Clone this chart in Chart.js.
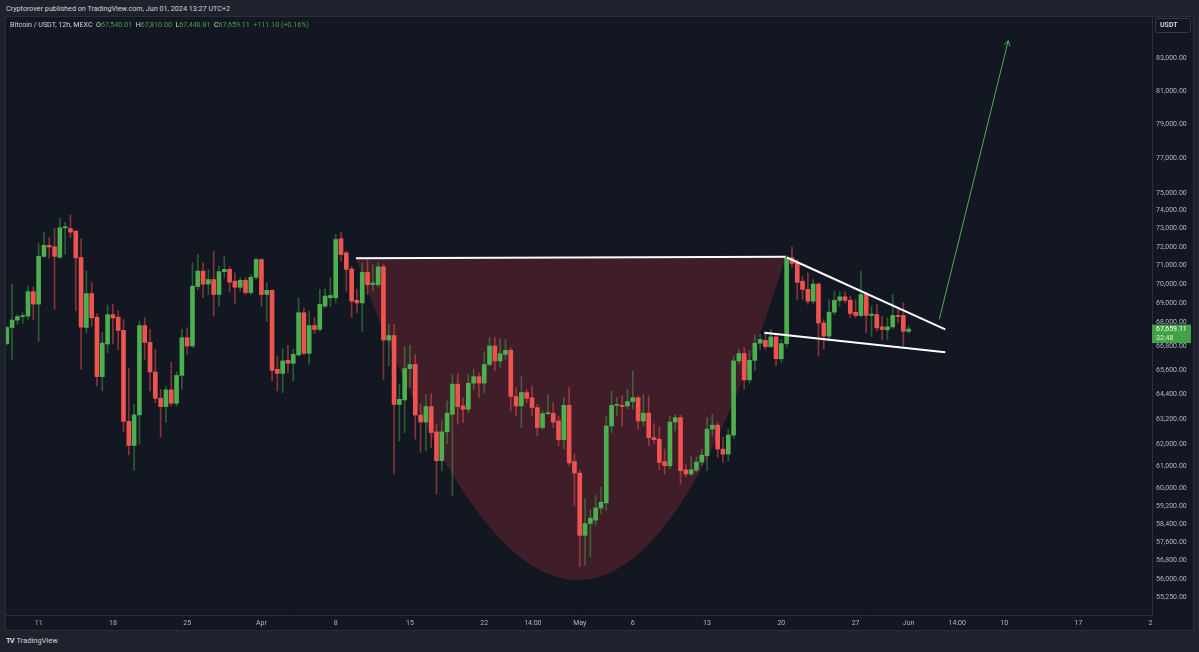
<!DOCTYPE html>
<html>
<head>
<meta charset="utf-8">
<title>Bitcoin / USDT 12h</title>
<script src="https://cdn.jsdelivr.net/npm/chart.js@4.4.1/dist/chart.umd.min.js"></script>
<style>
  html, body { margin: 0; padding: 0; }
  body { width: 1199px; height: 652px; background: #1e222d; position: relative; overflow: hidden;
         font-family: Roboto, "Liberation Sans", sans-serif; color: #d1d4dc; }
  #top { position: absolute; left: 6px; top: 3px; font-size: 7.2px; line-height: 11px; white-space: nowrap; }
  #panel { position: absolute; left: 5px; top: 16px; width: 1189px; height: 615px; background: #131722;
           box-sizing: border-box; border: 1px solid #2a2e39; }
  #chart { position: absolute; left: 6px; top: 16px; }
  #legend { position: absolute; left: 10px; top: 19px; font-size: 7.1px; line-height: 11px; white-space: pre; }
  #legend .v { color: #4a9e4e; }
  #unit { position: absolute; left: 1155px; top: 18px; width: 36px; height: 15px; box-sizing: border-box;
          border: 1px solid #363a45; border-radius: 3px; font-size: 7px; font-weight: bold; line-height: 13px; padding-left: 4px; }
  #logo { position: absolute; left: 6px; top: 636px; font-size: 7.5px; line-height: 10px; white-space: nowrap; }
  #logo b { letter-spacing: -1px; margin-right: 3px; }
</style>
</head>
<body>
<div id="top">Cryptorover published on TradingView.com, Jun 01, 2024 13:27 UTC+2</div>
<div id="panel"></div>
<canvas id="chart" width="1186" height="614"></canvas>
<div id="legend">Bitcoin / USDT, 12h, MEXC  O<span class="v">67,540.01</span>  H<span class="v">67,810.00</span>  L<span class="v">67,440.81</span>  C<span class="v">67,659.11</span>  <span class="v">+111.10 (+0.16%)</span></div>
<div id="unit">USDT</div>
<div id="logo"><b>TV</b>TradingView</div>
<script>
'use strict';

// 12h candles, first one on Mar 8 00:00 (x axis = days, Mar 1 = 0)
var firstDay = 7;

var open = [
  66930, 67740, 68120, 68300, 68330, 69600, 68950, 71480, 72080, 72000,
  71430, 73040, 73000, 72860, 71420, 67740, 69500, 68270, 65270, 66900,
  68400, 68270, 67590, 63100, 61960, 63410, 67840, 66980, 65500, 64210,
  63810, 64620, 63970, 65330, 67220, 66800, 69870, 70690, 70000, 70240,
  69450, 70660, 70780, 70150, 69830, 70200, 69550, 70360, 71310, 69450,
  69670, 65630, 65430, 66080, 65930, 66350, 68500, 66430, 67840, 67640,
  68840, 69280, 69280, 72440, 71670, 70800, 69150, 69010, 70620, 69970,
  69970, 70920, 67100, 67330, 63910, 64130, 65670, 65870, 63400, 63070,
  63810, 62600, 61250, 62600, 63440, 64900, 63840, 63680, 64950, 65270,
  64950, 65870, 66800, 66050, 66380, 66580, 64300, 63840, 64490, 64240,
  63760, 62810, 63470, 63490, 63120, 62230, 63870, 61210, 60680, 57890,
  58410, 58560, 59100, 59330, 62880, 63870, 63870, 63840, 64050, 64240,
  63120, 63490, 62330, 62260, 61210, 61020, 63070, 63280, 60830, 60640,
  60810, 61190, 61480, 62730, 62920, 61790, 61560, 62450, 66050, 66420,
  65110, 66080, 66940, 67080, 66770, 67260, 66160, 66920, 71400, 71160,
  70150, 69720, 69100, 70000, 67970, 67300, 68530, 69140, 69330, 69150,
  68530, 68360, 69450, 68360, 68410, 67770, 67620, 67770, 68360, 68360,
  67540.01
];
var high = [
  67800, 69980, 68400, 68500, 69900, 69850, 72200, 72800, 72500, 73000,
  73560, 73350, 73750, 72900, 72450, 70700, 70080, 68450, 67500, 68900,
  68950, 68600, 68150, 65670, 63920, 68080, 68250, 67640, 66630, 64650,
  64800, 65980, 65500, 67640, 67720, 71130, 71580, 71130, 70780, 71760,
  70960, 71490, 70920, 70600, 70330, 70330, 70500, 71400, 71350, 70070,
  69700, 66300, 66660, 66830, 66630, 69280, 68760, 68580, 68240, 69720,
  69750, 70330, 72680, 72800, 71760, 70960, 69720, 71130, 71270, 71040,
  71130, 71040, 67900, 67900, 64900, 66790, 66830, 66380, 63920, 64400,
  64450, 62960, 63120, 64080, 65380, 65430, 64240, 65380, 65630, 65470,
  66460, 67220, 67220, 67170, 67130, 66710, 64730, 65270, 64650, 64810,
  63920, 63600, 64400, 64000, 63360, 64240, 64730, 61560, 60790, 59510,
  59000, 59660, 60030, 63360, 64570, 64240, 64330, 64650, 65550, 64330,
  64400, 64330, 63000, 62870, 61790, 63360, 63440, 63390, 61100, 61480,
  61420, 61790, 63280, 63440, 63040, 62340, 62730, 66300, 66630, 66710,
  66560, 67350, 67390, 67390, 67640, 67390, 67130, 71520, 72000, 71310,
  70420, 70600, 70240, 70060, 68150, 69190, 69630, 69590, 69590, 69370,
  69190, 70690, 69570, 68840, 68930, 68320, 68240, 69450, 68670, 69010,
  67810
];
var low = [
  66850, 66130, 67900, 67950, 68150, 68150, 67030, 71430, 71380, 68670,
  71380, 71600, 72500, 68600, 65630, 67450, 67800, 64810, 64570, 66450,
  66900, 66600, 62600, 61520, 60800, 62030, 66130, 64570, 64000, 62350,
  63050, 63850, 63840, 64650, 66380, 66720, 69720, 69280, 69450, 68320,
  68840, 70330, 69580, 68980, 69630, 69450, 69450, 70240, 68840, 68060,
  65060, 64570, 64490, 65470, 65060, 66300, 66380, 65880, 67440, 67550,
  68750, 68840, 69010, 71220, 69630, 68240, 68500, 67550, 69450, 69630,
  69850, 65140, 65800, 60640, 62180, 62570, 64730, 62260, 61640, 61710,
  61870, 59730, 60790, 62030, 59660, 62960, 63040, 63520, 64650, 64240,
  64490, 65800, 65550, 65720, 66130, 63600, 63360, 62810, 64000, 63360,
  62410, 62730, 63420, 62810, 61950, 61790, 61020, 59210, 56530, 56600,
  56960, 58330, 58850, 59000, 62570, 63360, 62880, 63700, 63680, 62730,
  62900, 61950, 62030, 60840, 60640, 60900, 62650, 60180, 60490, 60560,
  60720, 61040, 60790, 62410, 61400, 61170, 61250, 62300, 65900, 64650,
  64950, 65570, 66630, 66630, 66730, 65800, 65970, 66740, 70880, 69190,
  69190, 68930, 68980, 66300, 66630, 67050, 68400, 68840, 69010, 68240,
  68240, 68290, 67470, 67290, 67550, 67130, 67130, 67670, 68000, 66790,
  67440.81
];
var close = [
  67740, 68120, 68300, 68330, 69600, 68950, 71490, 72080, 71990, 71480,
  73040, 73100, 72800, 71400, 67760, 69500, 68240, 65270, 66950, 68400,
  68230, 67590, 63100, 61960, 63410, 67840, 66980, 65500, 64210, 63810,
  64620, 63970, 65330, 67220, 66800, 69890, 70690, 70000, 70240, 69450,
  70660, 70780, 70100, 69830, 70200, 69550, 70360, 71310, 69450, 69670,
  65580, 65430, 66050, 65930, 66380, 68500, 66430, 67840, 67640, 68930,
  69370, 69400, 72400, 71580, 70780, 69100, 69010, 70620, 69970, 70060,
  70920, 67100, 67330, 63910, 64160, 65670, 65870, 63400, 63070, 63810,
  62570, 61250, 62600, 63490, 64900, 63810, 63680, 64950, 65270, 64950,
  65870, 66800, 66050, 66410, 66580, 64300, 63840, 64490, 64210, 63760,
  62810, 63470, 63500, 63070, 62230, 63870, 61150, 60680, 57890, 58410,
  58640, 59100, 59360, 62880, 63870, 63900, 63810, 64050, 64240, 63120,
  63490, 62330, 62230, 61170, 61020, 63070, 63280, 60790, 60640, 60840,
  61190, 61510, 62730, 62920, 61790, 61560, 62450, 66050, 66420, 65110,
  66080, 66940, 67130, 66770, 67260, 66160, 66920, 71400, 71100, 70090,
  69720, 69100, 70000, 67970, 67300, 68530, 69140, 69330, 69140, 68460,
  68360, 69450, 68360, 68430, 67720, 67640, 67770, 68360, 68300, 67540,
  67659.11
];

var yTicks = [55250, 56000, 56800, 57600, 58400, 59200, 60000, 61000, 62000, 63200, 64400, 65600,
  66800, 68000, 69000, 70000, 71000, 72000, 73000, 74000, 75000, 77000, 79000, 81000, 83000];
var xTickPos = [10, 17, 24, 31, 38, 45, 52, 56.58, 61, 66, 73, 80, 87, 92, 96.58, 101, 108, 114.78];
var xTickLabels = ['11', '18', '25', 'Apr', '8', '15', '22', '14:00', 'May', '6', '13', '20', '27', 'Jun', '14:00', '10', '17', '2'];

// drawings: [day, price]
var resistance = [[39.91, 71376], [80.41, 71462]];
var wedgeTop = [[80.53, 71419], [95.45, 67647]];
var wedgeBottom = [[78.40, 67473], [95.45, 66481]];
var arrowLine = [[94.89, 68159], [101.39, 84137]];
var cupStart = [39.91, 71376], cupEnd = [80.41, 71462], cupBottom = [60.84, 55969];
var countdown = '32:48';

var UP = '#4caf50', DOWN = '#ef5350';
var UP_WICK = 'rgba(76,175,80,0.45)', DOWN_WICK = 'rgba(239,83,80,0.5)';

var times = open.map((o, i) => firstDay + i / 2);
var isUp = close.map((c, i) => c >= open[i]);

function fmt(v) {
  return v.toLocaleString('en-US', {minimumFractionDigits: 2, maximumFractionDigits: 2});
}
function pts(arr) {
  return arr.map(p => ({x: p[0], y: p[1]}));
}
function lineSet(arr, color, width) {
  return {type: 'line', data: pts(arr), borderColor: color, borderWidth: width,
          pointRadius: 0, fill: false, order: 0};
}

var overlay = {
  id: 'overlay',
  beforeDatasetsDraw(chart) {
    const {ctx, chartArea: a, scales: {x, y}} = chart;
    const x0 = x.getPixelForValue(cupStart[0]), y0 = y.getPixelForValue(cupStart[1]);
    const x2 = x.getPixelForValue(cupEnd[0]), y2 = y.getPixelForValue(cupEnd[1]);
    const xb = x.getPixelForValue(cupBottom[0]), yb = y.getPixelForValue(cupBottom[1]);
    // control point so the curve goes through the bottom point
    const cx = 2 * xb - (x0 + x2) / 2, cy = 2 * yb - (y0 + y2) / 2;
    ctx.save();
    ctx.beginPath();
    ctx.rect(a.left, a.top, a.width, a.height);
    ctx.clip();
    ctx.beginPath();
    ctx.moveTo(x0, y0);
    ctx.quadraticCurveTo(cx, cy, x2, y2);
    ctx.closePath();
    ctx.fillStyle = 'rgba(242,54,69,0.2)';
    ctx.fill();
    ctx.restore();
  },
  afterDatasetsDraw(chart) {
    const {ctx, scales: {x, y}} = chart;
    const fx = x.getPixelForValue(arrowLine[0][0]), fy = y.getPixelForValue(arrowLine[0][1]);
    const tx = x.getPixelForValue(arrowLine[1][0]), ty = y.getPixelForValue(arrowLine[1][1]);
    const ang = Math.atan2(ty - fy, tx - fx);
    ctx.save();
    ctx.strokeStyle = UP;
    ctx.lineWidth = 1;
    ctx.beginPath();
    ctx.moveTo(tx - 6 * Math.cos(ang - 0.5), ty - 6 * Math.sin(ang - 0.5));
    ctx.lineTo(tx, ty);
    ctx.lineTo(tx - 6 * Math.cos(ang + 0.5), ty - 6 * Math.sin(ang + 0.5));
    ctx.stroke();
    ctx.restore();
  },
  afterDraw(chart) {
    const {ctx, chartArea: a, scales: {y}} = chart;
    const last = close[close.length - 1];
    const py = y.getPixelForValue(last);
    ctx.save();
    ctx.fillStyle = '#43a047';
    ctx.fillRect(a.right, py - 4.5, 39, 18.5);
    ctx.font = '7px Roboto';
    ctx.textBaseline = 'middle';
    ctx.fillStyle = '#ffffff';
    ctx.fillText(fmt(last), a.right + 4, py + 0.5);
    ctx.fillStyle = '#dcefdc';
    ctx.fillText(countdown, a.right + 4, py + 9.5);
    ctx.restore();
  }
};

Chart.defaults.font.family = 'Roboto';
Chart.defaults.font.size = 7;
Chart.defaults.color = '#b2b5be';

new Chart(document.getElementById('chart'), {
  type: 'bar',
  data: {
    datasets: [
      lineSet(resistance, '#ffffff', 2),
      lineSet(wedgeTop, '#ffffff', 2),
      lineSet(wedgeBottom, '#ffffff', 2),
      lineSet(arrowLine, UP, 1),
      {
        data: times.map((t, i) => ({x: t, y: [open[i], close[i]]})),
        backgroundColor: isUp.map(u => u ? UP : DOWN),
        barThickness: 4, grouped: false, minBarLength: 1, order: 1
      },
      {
        data: times.map((t, i) => ({x: t, y: [low[i], high[i]]})),
        backgroundColor: isUp.map(u => u ? UP_WICK : DOWN_WICK),
        barThickness: 1, grouped: false, order: 2
      }
    ]
  },
  options: {
    responsive: false,
    animation: false,
    events: [],
    layout: {padding: 0},
    plugins: {legend: {display: false}, tooltip: {enabled: false}},
    scales: {
      x: {
        type: 'linear', min: 6.925, max: 114.936, offset: false, bounds: 'data',
        grid: {display: false, drawTicks: false},
        border: {display: true, color: '#2a2e39'},
        afterBuildTicks: s => { s.ticks = xTickPos.map(v => ({value: v})); },
        afterFit: s => { s.height = 15; s.paddingLeft = 0; s.paddingRight = 0; },
        ticks: {autoSkip: false, maxRotation: 0, padding: 4, color: '#b2b5be',
                callback: (v, i) => xTickLabels[i]}
      },
      y: {
        type: 'logarithmic', position: 'right', min: 54509, max: 85722, bounds: 'data',
        grid: {display: false, drawTicks: false},
        border: {display: true, color: '#2a2e39'},
        afterBuildTicks: s => { s.ticks = yTicks.map(v => ({value: v})); },
        // keep the plot flush with the top edge (no room for label halves)
        afterFit: s => { s.width = 40; s.paddingTop = 0; s.paddingBottom = 0; },
        ticks: {autoSkip: false, padding: 4, color: '#b2b5be', callback: v => fmt(v)}
      }
    }
  },
  plugins: [overlay]
});
</script>
</body>
</html>
